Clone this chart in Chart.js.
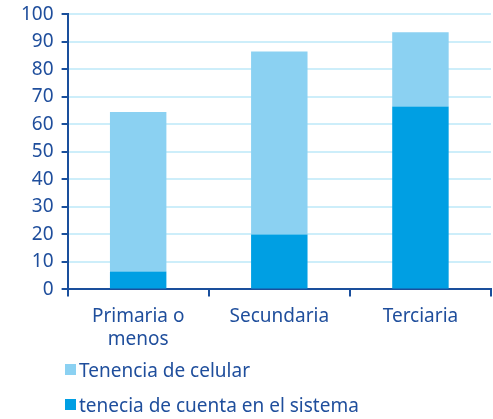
<!DOCTYPE html>
<html>
<head>
<meta charset="utf-8">
<script src="https://cdn.jsdelivr.net/npm/chart.js@4"></script>
<style>
  html, body { margin: 0; padding: 0; background: #fff; }
  #wrap { position: relative; width: 493px; height: 365px; margin-top: -5px; }
  #legend { position: absolute; left: 65px; top: 352px; font-family: "Noto Sans", sans-serif; font-size: 19px; color: #1f4e9c; }
  #legend div { display: flex; align-items: center; height: 35px; }
  #legend span.box { display: inline-block; width: 11px; height: 11px; margin-right: 3px; }
</style>
</head>
<body>
<div id="wrap"><canvas id="c"></canvas></div>
<div id="legend"></div>
<script>
// education level categories
const categories = [['Primaria o', 'menos'], 'Secundaria', 'Terciaria'];
// stacked parts (percent)
const cuenta = [6.5, 20, 66.5];
const celular = [58, 66.5, 27];
const yTicks = [0, 10, 20, 30, 40, 50, 60, 70, 80, 90, 100];

const axisBlue = '#1a4f9c';
const textBlue = '#1f4e9c';

const chart = new Chart(document.getElementById('c'), {
    type: 'bar',
    data: {
        labels: categories,
        datasets: [
            {
                label: 'tenecia de cuenta en el sistema',
                data: cuenta,
                backgroundColor: '#009fe3',
                barPercentage: 0.8,
                categoryPercentage: 0.5,
            },
            {
                label: 'Tenencia de celular',
                data: celular,
                backgroundColor: '#8bd1f2',
                barPercentage: 0.8,
                categoryPercentage: 0.5,
            }
        ]
    },
    options: {
        responsive: true,
        maintainAspectRatio: false,
        animation: false,
        layout: { padding: { top: 2, right: 2, left: 13 } },
        plugins: {
            legend: { display: false },
            tooltip: { enabled: false }
        },
        scales: {
            x: {
                stacked: true,
                offset: true,
                border: { color: axisBlue, width: 2 },
                grid: { display: true, drawOnChartArea: false, offset: true, color: axisBlue, tickLength: 7, lineWidth: 2 },
                ticks: { color: textBlue, font: { family: 'Noto Sans', size: 19 }, padding: 9, maxRotation: 0 }
            },
            y: {
                stacked: true,
                min: 0,
                max: 100,
                afterBuildTicks: axis => { axis.ticks = yTicks.map(v => ({ value: v })); },
                border: { color: axisBlue, width: 2 },
                grid: { color: '#cdeefa', lineWidth: 2, tickColor: axisBlue, tickLength: 6 },
                ticks: { color: textBlue, font: { family: 'Noto Sans', size: 19 }, padding: 8 }
            }
        }
    }
});

// HTML legend, one item per line, light part first
const legend = document.getElementById('legend');
[1, 0].forEach(i => {
    const ds = chart.data.datasets[i];
    const row = document.createElement('div');
    row.innerHTML = `<span class="box" style="background:${ds.backgroundColor}"></span>${ds.label}`;
    legend.appendChild(row);
});
</script>
</body>
</html>
